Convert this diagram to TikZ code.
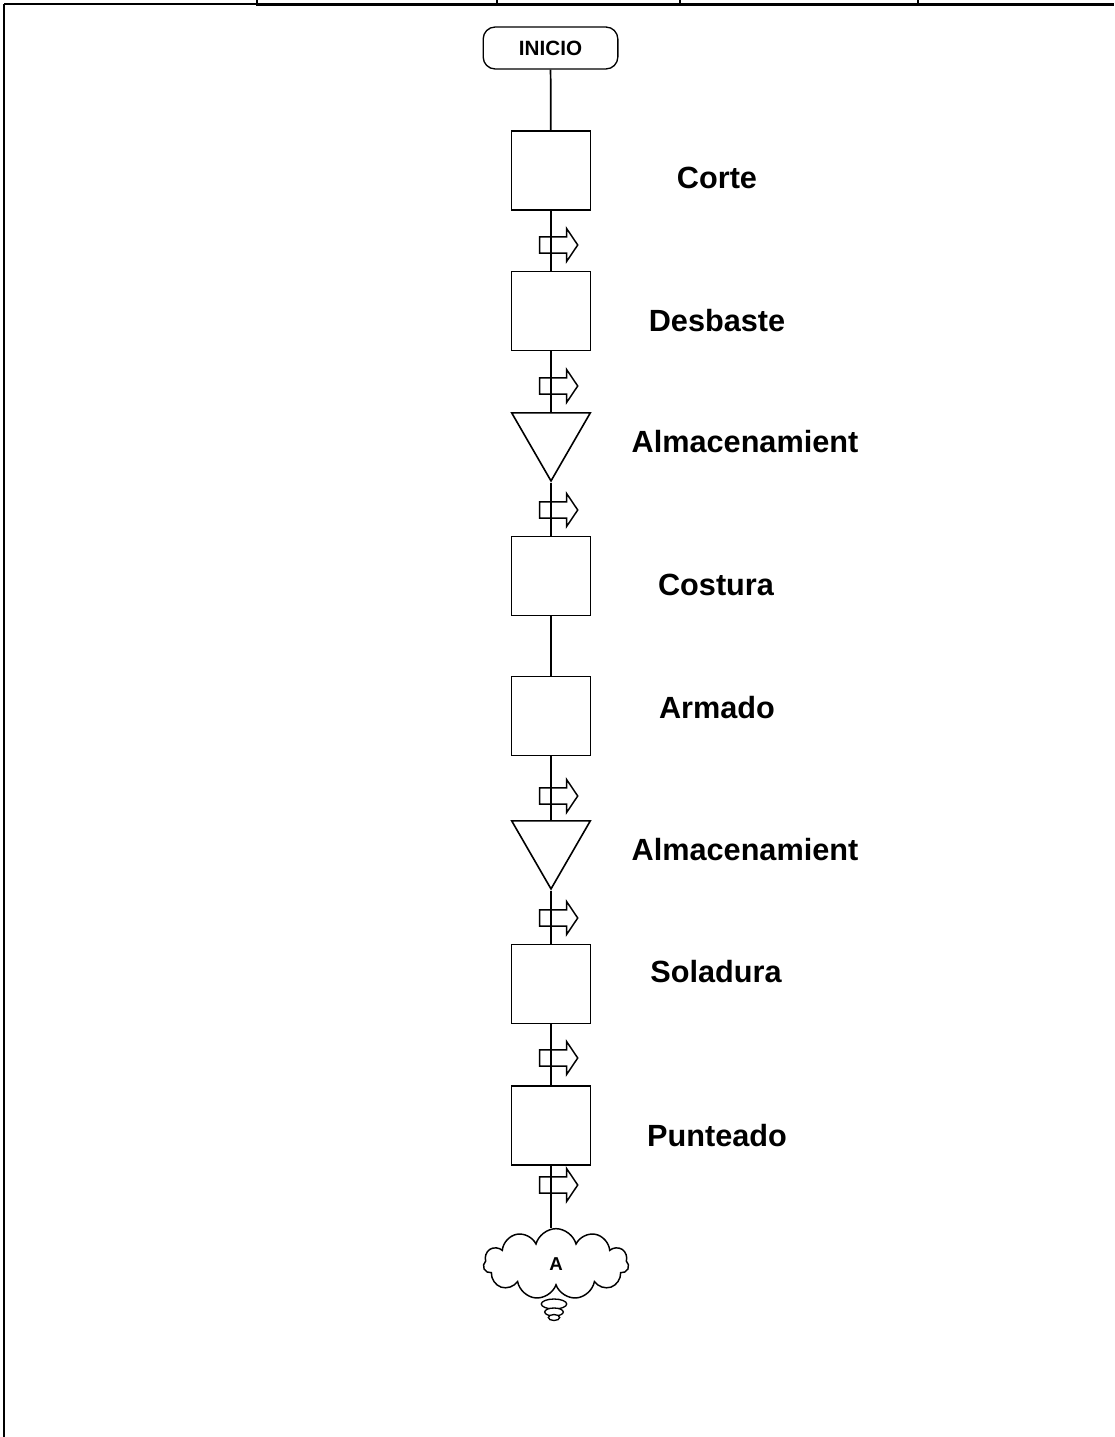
\documentclass[tikz,border=0pt]{standalone}
\usepackage{fontspec}
\setmainfont{Liberation Sans}
\usepackage{tikz}
\usetikzlibrary{shapes.geometric,shapes.arrows,shapes.symbols}
\usetikzlibrary{positioning}

\begin{document}
\begin{tikzpicture}[x=0.75pt,y=-0.75pt,
      mystart/.style={
         rectangle,
         rounded corners=9pt,
         draw=black,
         line width=1pt,
         fill=white,
         minimum width=101pt,
         minimum height=31.5pt,
         inner sep=0pt,
         font=\fontsize{15.5}{17}\selectfont\bfseries},
      mybox/.style={
         rectangle,
         draw=black,
         line width=1.2pt,
         fill=white,
         minimum size=59pt,
         inner sep=0pt},
      mytri/.style={
         regular polygon,
         regular polygon sides=3,
         shape border rotate=180,
         draw=black,
         line width=1.2pt,
         fill=white,
         minimum size=68pt,
         inner sep=0pt},
      myflow/.style={
         single arrow,
         draw=black,
         line width=1.1pt,
         minimum height=28.5pt,
         inner xsep=0pt,
         inner ysep=5.5pt,
         single arrow head extend=6.4pt,
         single arrow tip angle=112},
      mycloud/.style={
         cloud,
         draw=black,
         line width=1.1pt,
         fill=white,
         cloud puffs=11,
         aspect=2,
         minimum width=109pt,
         minimum height=53pt,
         inner sep=0pt,
         font=\fontsize{14}{16}\selectfont\bfseries},
      mybubble/.style={ellipse, draw=black, line width=1pt, fill=white, inner sep=0pt},
      mylabel/.style={font=\fontsize{23}{27}\selectfont\bfseries},
      myline/.style={line width=1.3pt}
      ]
      \useasboundingbox (0,0) rectangle (1114,1437);

      % frame of the sheet
      \draw[line width=1pt] (4,4) -- (257,4);
      \draw[line width=2pt] (257,4.5) -- (1114,4.5);
      \foreach \x in {257,497,680,918}
         \draw[line width=1pt] (\x,0) -- (\x,6);
      \draw[line width=1.1pt] (4,4) -- (4,1437);

      \node[mystart] (inicio) at (550.5,48) {INICIO};

      \foreach \n/\y in {% name/centre
        corte/170.5,
        desbaste/311,
        costura/576,
        armado/716,
        soladura/984,
        punteado/1125.5}
         \node[mybox] (\n) at (551,\y) {};

      \node[mytri] (alm1) at (551,435.6) {};
      \node[mytri] (alm2) at (551,843.6) {};

      % thought bubble at the end
      \node[mybubble, minimum width=19pt, minimum height=7.5pt] (b1) at (554,1304) {};
      \node[mybubble, minimum width=14pt, minimum height=6pt] (b2) at (554,1312) {};
      \node[mybubble, minimum width=8.5pt, minimum height=4.5pt] (b3) at (554,1317.5) {};
      \node[mycloud] (fin) at (556,1264) {A};

      \foreach \i/\j in {% start node/end node
        inicio/corte,
        corte/desbaste,
        desbaste/alm1,
        alm1/costura,
        costura/armado,
        armado/alm2,
        alm2/soladura,
        soladura/punteado}
         \draw[myline] (\i) -- (\j);
      \draw[myline] (punteado.south) -- (fin.north -| punteado.south);

      \foreach \k/\y in {1/245, 2/386, 3/510, 4/796, 5/918, 6/1058, 7/1185}
         \node[myflow] (f\k) at (556,\y) {};

      \foreach \k/\x/\y/\txt in {% name/x/y/text
        corte/717/178/Corte,
        desbaste/717/321/Desbaste,
        alm1/745/442/Almacenamient,
        costura/716/585/Costura,
        armado/717/708/Armado,
        alm2/745/850/Almacenamient,
        soladura/716/972/Soladura,
        punteado/717/1136/Punteado}
         \node[mylabel] (t-\k) at (\x,\y) {\txt};
\end{tikzpicture}
\end{document}
